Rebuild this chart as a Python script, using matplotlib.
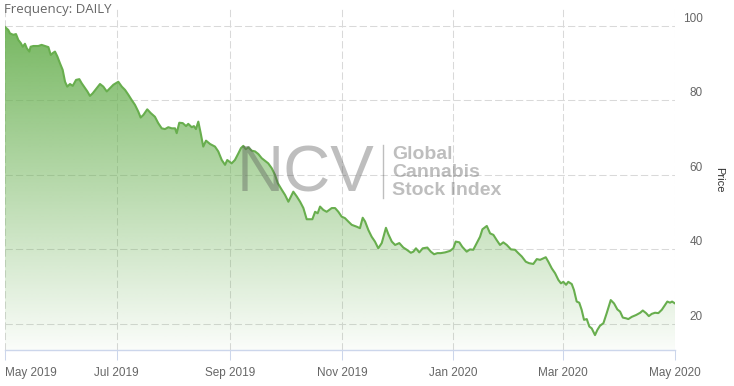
import numpy as np
import matplotlib
matplotlib.use('Agg')
import matplotlib.pyplot as plt
import matplotlib.dates as mdates
from matplotlib.patches import Polygon
from matplotlib.lines import Line2D
from matplotlib.transforms import blended_transform_factory, ScaledTranslation

# series: days since 2019-05-01 and index price
start_date = np.datetime64('2019-05-01')
day_offsets = [
    0.0, 1.8, 2.7, 4.5, 6.0, 7.3, 8.6, 9.7, 10.9, 11.9,
    13.3, 14.0, 15.5, 18.2, 20.0, 21.9, 23.7, 25.0, 26.1, 27.3,
    28.6, 30.0, 31.5, 32.8, 34.0, 35.5, 37.0, 38.8, 40.6, 41.9,
    43.7, 45.0, 46.4, 47.9, 50.1, 51.9, 53.7, 55.6, 57.4, 59.2,
    61.9, 63.8, 65.6, 67.4, 69.2, 71.0, 72.8, 74.1, 75.6, 77.7,
    79.6, 81.9, 83.7, 85.6, 87.4, 89.2, 91.1, 92.9, 93.8, 95.2,
    97.1, 98.9, 100.1, 102.0, 103.2, 104.3, 105.6, 106.9, 108.3, 109.8,
    112.0, 114.7, 116.5, 118.4, 120.2, 121.4, 123.8, 125.6, 127.5, 128.9,
    130.2, 131.5, 132.9, 134.8, 136.6, 138.4, 140.2, 142.0, 143.8, 145.7,
    147.5, 149.0, 151.2, 153.0, 154.8, 156.2, 157.5, 159.4, 161.2, 163.0,
    164.8, 166.6, 167.9, 169.4, 170.8, 172.1, 173.9, 175.7, 178.5, 180.3,
    182.1, 183.9, 185.7, 187.5, 189.4, 192.1, 193.9, 195.4, 196.7, 198.5,
    200.3, 202.1, 203.9, 205.8, 208.1, 209.4, 211.3, 213.1, 215.4, 217.6,
    219.5, 221.7, 223.1, 224.5, 226.3, 228.2, 230.7, 232.6, 234.4, 236.2,
    238.0, 240.4, 243.1, 244.9, 246.2, 248.2, 249.8, 252.2, 254.0, 255.8,
    257.7, 259.5, 260.8, 263.2, 265.0, 266.8, 268.6, 270.4, 272.2, 274.1,
    276.4, 278.6, 280.4, 282.3, 284.5, 286.3, 288.6, 290.5, 292.3, 294.1,
    295.4, 296.8, 298.7, 300.5, 302.3, 303.7, 305.0, 306.5, 307.7, 309.6,
    310.8, 312.3, 313.7, 315.0, 316.3, 317.8, 319.2, 320.5, 322.3, 323.6,
    325.0, 326.9, 328.7, 330.9, 332.7, 334.5, 336.0, 337.5, 339.3, 340.5,
    342.4, 344.8, 347.0, 348.4, 350.2, 351.7, 353.3, 355.1, 356.9, 358.8,
    360.6, 361.8, 363.3, 364.4, 366.0,
]
prices = [
    99.7, 98.9, 98.0, 97.6, 97.8, 96.2, 95.4, 94.4, 95.2, 94.0,
    93.1, 94.4, 94.6, 94.6, 94.9, 94.6, 94.3, 92.2, 92.7, 93.1,
    91.8, 90.0, 88.2, 85.0, 83.7, 84.4, 83.9, 85.5, 85.7, 84.6,
    83.3, 82.4, 81.2, 81.9, 83.3, 84.4, 83.7, 82.4, 83.3, 84.2,
    85.0, 83.7, 82.8, 81.5, 80.1, 78.8, 77.0, 75.4, 76.1, 77.6,
    76.6, 75.6, 73.9, 72.5, 72.3, 72.8, 72.5, 72.5, 71.2, 74.0,
    73.9, 73.1, 73.7, 72.8, 73.1, 72.3, 74.3, 71.2, 67.6, 69.2,
    68.3, 67.6, 66.3, 64.0, 62.7, 64.0, 63.1, 64.0, 65.8, 67.2,
    67.8, 66.9, 67.4, 66.5, 66.3, 65.6, 64.5, 63.8, 63.1, 61.8,
    60.0, 57.8, 56.0, 54.6, 52.8, 54.2, 55.5, 54.2, 52.8, 51.1,
    48.1, 48.1, 48.1, 50.1, 49.7, 51.5, 50.6, 50.1, 51.1, 51.1,
    50.1, 48.8, 48.4, 47.5, 46.6, 46.1, 45.7, 48.5, 47.5, 45.2,
    43.4, 42.1, 40.3, 41.7, 45.8, 44.1, 42.1, 41.2, 41.7, 40.5,
    39.9, 39.1, 39.4, 40.3, 39.2, 40.3, 40.5, 39.4, 38.7, 39.0,
    39.0, 39.2, 39.6, 40.3, 42.1, 41.9, 40.7, 39.4, 40.0, 39.9,
    41.7, 43.4, 45.4, 46.3, 44.3, 43.9, 42.5, 41.2, 41.9, 41.2,
    40.0, 39.9, 39.0, 38.1, 36.7, 36.3, 36.1, 37.4, 37.2, 37.6,
    37.9, 36.7, 34.9, 33.6, 31.8, 30.9, 31.3, 30.5, 31.3, 30.7,
    29.1, 26.0, 25.7, 23.8, 21.1, 21.3, 19.3, 18.8, 17.0, 18.4,
    19.5, 20.2, 22.9, 26.4, 25.5, 23.9, 23.3, 21.7, 21.5, 21.3,
    21.9, 22.4, 23.0, 23.6, 22.9, 22.1, 22.7, 23.0, 22.9, 23.8,
    25.1, 26.0, 25.7, 26.0, 25.5,
]

x_tick_dates = ['2019-05-01', '2019-07-01', '2019-09-01', '2019-11-01',
                '2020-01-01', '2020-03-01', '2020-05-01']
x_tick_labels = ['May 2019', 'Jul 2019', 'Sep 2019', 'Nov 2019',
                 'Jan 2020', 'Mar 2020', 'May 2020']
y_ticks = [20, 40, 60, 80, 100]

line_color = '#68ae4e'
grid_color = '#d9d9d9'
axis_color = '#ccd6eb'
label_color = '#666666'

plt.rcParams['font.family'] = ['Liberation Sans', 'DejaVu Sans']

W, H = 734, 386
fig = plt.figure(figsize=(W / 100, H / 100), dpi=100)
ax = fig.add_axes([5 / W, 36 / H, 670 / W, 342 / H])

x = mdates.date2num(start_date) + np.array(day_offsets)
y = np.array(prices)
x0 = mdates.date2num(np.datetime64(x_tick_dates[0]))
x1 = mdates.date2num(np.datetime64(x_tick_dates[-1]))
ymin, ymax = 13.0, 104.8

# gradient area under the line
verts = [(x[0], ymin)] + list(zip(x, y)) + [(x[-1], ymin)]
clip = Polygon(verts, closed=True, facecolor='none', edgecolor='none')
ax.add_patch(clip)
rows = 300
grad = np.zeros((rows, 1, 4))
grad[:, 0, 0] = 104 / 255
grad[:, 0, 1] = 176 / 255
grad[:, 0, 2] = 80 / 255
grad[:, 0, 3] = np.linspace(0.95, 0.03, rows)
im = ax.imshow(grad, extent=[x0, x1, ymin, ymax], origin='upper',
               aspect='auto', zorder=1, interpolation='bilinear')
im.set_clip_path(clip)

ax.plot(x, y, color=line_color, lw=1.5, zorder=3, solid_joinstyle='round')

ax.set_xlim(x0, x1)
ax.set_ylim(ymin, ymax)

ax.set_xticks([mdates.date2num(np.datetime64(d)) for d in x_tick_dates])
ax.set_xticklabels(x_tick_labels)
ax.set_yticks(y_ticks)
ax.tick_params(axis='x', direction='out', length=7.5, width=0.75,
               color=axis_color, labelcolor=label_color, labelsize=8.5, pad=4.5)
ax.tick_params(axis='y', length=0, labelleft=False, labelright=False)
ax.get_xticklabels()[0].set_horizontalalignment('left')

ax.set_axisbelow(True)
ax.grid(True, color=grid_color, linestyle=(0, (7, 3)), linewidth=0.75)

for side in ['top', 'left', 'right']:
    ax.spines[side].set_visible(False)
ax.spines['bottom'].set_color(axis_color)
ax.spines['bottom'].set_linewidth(1.0)

# y labels sit on the right, a bit above each gridline
ytrans = blended_transform_factory(ax.transAxes, ax.transData) + \
    ScaledTranslation(0, 7 / 100, fig.dpi_scale_trans)
for v in y_ticks:
    ax.text(1 + 28 / 670, v, str(v), transform=ytrans, ha='right', va='center',
            fontsize=8.5, color=label_color)

fig.text(719 / W, 1 - 180 / H, 'Price', rotation=270, ha='center', va='center',
         fontsize=8, color='#333333')
fig.text(4 / W, 1 - 10 / H, 'Frequency: DAILY', ha='left', va='center',
         fontsize=9.5, color=label_color, family=['Open Sans', 'DejaVu Sans'])

# watermark
wm = '#555555'
fig.text(237 / W, 1 - 192 / H, 'NCV', ha='left', va='baseline', fontsize=47,
         color=wm, alpha=0.38, zorder=5)
fig.add_artist(Line2D([383 / W, 383 / W], [1 - 145 / H, 1 - 198 / H],
                      transform=fig.transFigure, color=wm, alpha=0.38, lw=1))
for i, word in enumerate(['Global', 'Cannabis', 'Stock Index']):
    fig.text(392 / W, 1 - (159 + 18 * i) / H, word, ha='left', va='baseline',
             fontsize=14, fontweight='bold', color=wm, alpha=0.38, zorder=5)

fig.savefig('out.png', dpi=100)
